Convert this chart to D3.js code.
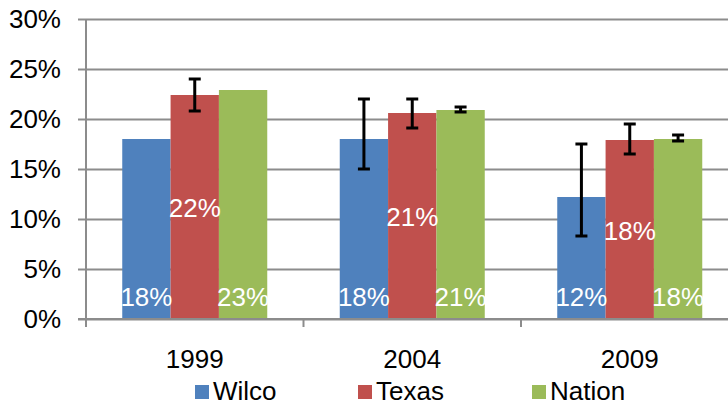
<!DOCTYPE html>
<html>
<head>
<meta charset="utf-8">
<script src="https://cdn.jsdelivr.net/npm/d3@7"></script>
<style>
  body { margin: 0; background: #fff; }
  text { font-family: "Liberation Sans", Arial, sans-serif; }
</style>
</head>
<body>
<div class="chart"></div>
<script>
// data
const years = ["1999", "2004", "2009"];
const series = ["Wilco", "Texas", "Nation"];
const colors = ["#4F81BD", "#C0504D", "#9BBB59"];
const wilco = [0.180, 0.180, 0.122];
const texas = [0.224, 0.206, 0.179];
const nation = [0.229, 0.209, 0.180];
// error bar ends (low, high)
const wilcoErr = [null, [0.150, 0.220], [0.083, 0.175]];
const texasErr = [[0.208, 0.240], [0.191, 0.220], [0.165, 0.195]];
const nationErr = [null, [0.207, 0.212], [0.178, 0.184]];
const yTicks = [0, 0.05, 0.10, 0.15, 0.20, 0.25, 0.30];

const values = [wilco, texas, nation];
const errs = [wilcoErr, texasErr, nationErr];

const W = 728, H = 402;
const plot = { left: 86, top: 19, bottom: 319, catWidth: 217.5 };
const fontSize = "26px";

const svg = d3.select(".chart").append("svg")
    .attr("width", W)
    .attr("height", H);

const x0 = d3.scaleBand()
    .domain(years)
    .range([plot.left, plot.left + plot.catWidth * years.length]);
const x1 = d3.scaleBand()
    .domain(series)
    .range([0, x0.bandwidth()])
    .paddingInner(0)
    .paddingOuter(0.75);
const y = d3.scaleLinear()
    .domain([0, 0.30])
    .range([plot.bottom, plot.top]);

const grid = "#8C8C8C";

// gridlines + y axis
const yAxis = d3.axisLeft(y).tickValues(yTicks).tickFormat(d3.format(".0%")).tickSize(8).tickPadding(17);
const gy = svg.append("g")
    .attr("transform", `translate(${plot.left},0)`)
    .call(yAxis);
gy.select(".domain").attr("stroke", grid).attr("stroke-width", 2)
    .attr("d", `M0,${plot.top}V${plot.bottom}`);
gy.selectAll(".tick line").attr("stroke", grid).attr("stroke-width", 2);
gy.selectAll(".tick text")
    .attr("fill", "#000").style("font-size", fontSize);
gy.selectAll(".tick").append("line")
    .attr("x1", 0).attr("x2", W - plot.left)
    .attr("stroke", grid).attr("stroke-width", 2);

// x axis
const bounds = d3.range(years.length + 1).map(i => plot.left + i * plot.catWidth);
const gx = svg.append("g");
gx.selectAll("line.xt").data(bounds).enter().append("line")
    .attr("class", "xt")
    .attr("x1", d => d).attr("x2", d => d)
    .attr("y1", plot.bottom).attr("y2", plot.bottom + 8)
    .attr("stroke", grid).attr("stroke-width", 2);
gx.selectAll("text").data(years).enter().append("text")
    .attr("x", d => x0(d) + x0.bandwidth() / 2)
    .attr("y", 368)
    .attr("text-anchor", "middle")
    .style("font-size", fontSize)
    .text(d => d);

// bars
const fmt = d3.format(".0%");
series.forEach((s, si) => {
    const g = svg.append("g").attr("class", "series-" + s);
    g.selectAll("rect").data(values[si]).enter().append("rect")
        .attr("x", (d, i) => x0(years[i]) + x1(s))
        .attr("y", d => y(d))
        .attr("width", x1.bandwidth())
        .attr("height", d => y(0) - y(d))
        .attr("fill", colors[si]);
});

// x axis line over bars' bottom
svg.append("line")
    .attr("x1", plot.left - 8).attr("x2", W)
    .attr("y1", plot.bottom).attr("y2", plot.bottom)
    .attr("stroke", grid).attr("stroke-width", 2);

// error bars
series.forEach((s, si) => {
    const g = svg.append("g").attr("class", "err-" + s);
    errs[si].forEach((e, i) => {
        if (!e) return;
        const cx = x0(years[i]) + x1(s) + x1.bandwidth() / 2;
        const cap = 6;
        g.append("line").attr("x1", cx).attr("x2", cx)
            .attr("y1", y(e[0])).attr("y2", y(e[1]));
        [e[0], e[1]].forEach(v => {
            g.append("line").attr("x1", cx - cap).attr("x2", cx + cap)
                .attr("y1", y(v)).attr("y2", y(v));
        });
    });
    g.selectAll("line").attr("stroke", "#000").attr("stroke-width", 3);
});

// data labels
series.forEach((s, si) => {
    svg.append("g").selectAll("text").data(values[si]).enter().append("text")
        .attr("x", (d, i) => x0(years[i]) + x1(s) + x1.bandwidth() / 2)
        .attr("y", d => s === "Texas" ? (y(d) + y(0)) / 2 + 1 : y(0) - 22)
        .attr("text-anchor", "middle")
        .attr("dominant-baseline", "central")
        .attr("fill", "#fff")
        .style("font-size", fontSize)
        .text(d => fmt(d));
});

// legend
const legendX = [195, 358, 532];
const lg = svg.append("g");
series.forEach((s, si) => {
    lg.append("rect")
        .attr("x", legendX[si]).attr("y", 385)
        .attr("width", 14).attr("height", 14)
        .attr("fill", colors[si]);
    lg.append("text")
        .attr("x", legendX[si] + 18).attr("y", 400)
        .style("font-size", fontSize)
        .text(s);
});
</script>
</body>
</html>
